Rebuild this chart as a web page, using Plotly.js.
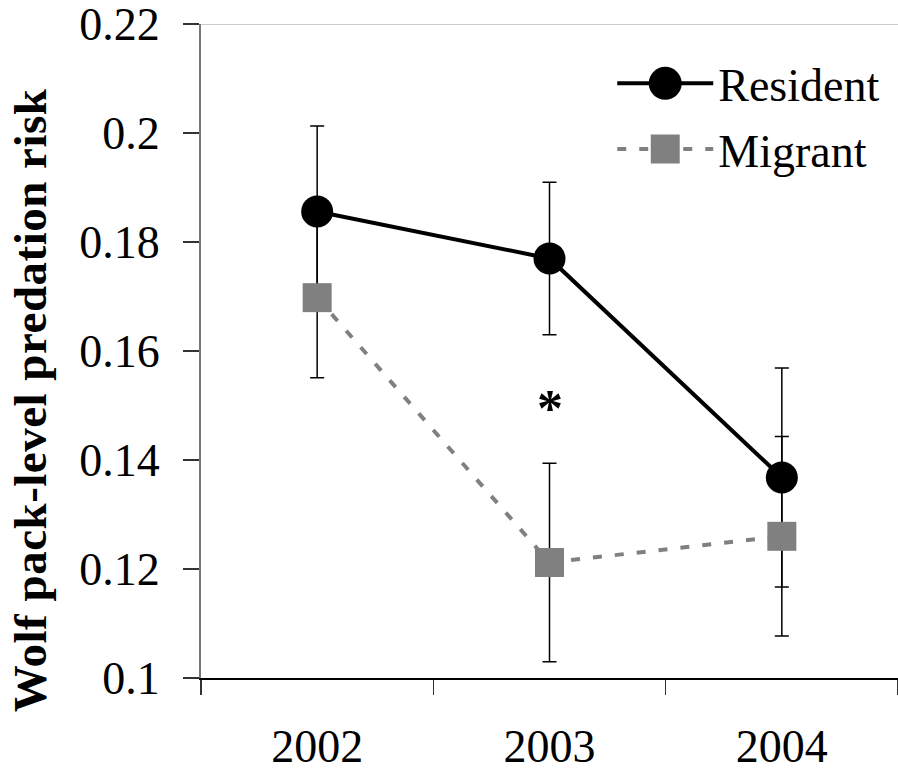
<!DOCTYPE html>
<html>
<head>
<meta charset="utf-8">
<script src="https://cdn.plot.ly/plotly-3.0.1.min.js"></script>
<style>html,body{margin:0;padding:0;background:#fff;}#chart{width:898px;height:771px;}</style>
</head>
<body>
<div id="chart"></div>
<script>
const years = ['2002', '2003', '2004'];
const resident = [0.1856, 0.1770, 0.1368];
const residentErr = [0.0157, 0.0140, 0.0201];
const migrant = [0.1698, 0.1212, 0.1260];
const migrantErr = [0.0147, 0.0182, 0.0183];
const yTicks = [0.1, 0.12, 0.14, 0.16, 0.18, 0.2, 0.22];
const yTickText = ['0.1', '0.12', '0.14', '0.16', '0.18', '0.2', '0.22'];
const yTitle = 'Wolf pack-level predation risk';
const sigYear = '2003';
const sigY = 0.1509;

const FONT = '"Liberation Serif", "Times New Roman", serif';

const traces = [
  {
    x: years, y: resident, name: 'Resident', type: 'scatter', mode: 'lines+markers',
    legendgroup: 'r',
    line: {color: '#000', width: 4},
    marker: {symbol: 'circle', size: 32, color: '#000'},
    error_y: {type: 'data', array: residentErr, visible: true, color: '#000', thickness: 1.5, width: 7}
  },
  {
    x: years, y: migrant, name: 'Migrant', type: 'scatter', mode: 'lines+markers',
    legendgroup: 'm',
    line: {color: '#808080', width: 4, dash: '9px,13px'},
    marker: {symbol: 'square', size: 29, color: '#808080'},
    error_y: {type: 'data', array: migrantErr, visible: true, color: '#000', thickness: 1.5, width: 7}
  }
];

const layout = {
  width: 898, height: 771,
  margin: {l: 201, r: 0, t: 24, b: 93, pad: 0},
  paper_bgcolor: '#fff', plot_bgcolor: '#fff',
  font: {family: FONT, size: 46, color: '#000'},
  showlegend: true,
  legend: {
    x: 0.59, y: 0.965, xanchor: 'left', yanchor: 'top',
    traceorder: 'grouped', bgcolor: 'rgba(0,0,0,0)',
    font: {family: FONT, size: 46, color: '#000'},
    itemwidth: 96, tracegroupgap: 3
  },
  xaxis: {
    type: 'category', range: [-0.5, 2.5], tickson: 'boundaries',
    showline: true, linecolor: '#000', linewidth: 2,
    ticks: 'outside', ticklen: 15, tickwidth: 1.5, tickcolor: '#333',
    showgrid: false, zeroline: false,
    tickfont: {family: FONT, size: 46, color: '#000'},
    ticklabelstandoff: 27, fixedrange: true
  },
  yaxis: {
    range: [0.1, 0.22002], tickvals: yTicks, ticktext: yTickText,
    showline: true, linecolor: '#777', linewidth: 2,
    ticks: 'outside', ticklen: 16, tickwidth: 1.5, tickcolor: '#333',
    showgrid: false, zeroline: false,
    tickfont: {family: FONT, size: 46, color: '#000'},
    ticklabelstandoff: 14, ticklabeloverflow: 'allow',
    automargin: false, fixedrange: true
  },
  shapes: [
    {type: 'line', xref: 'paper', yref: 'y', x0: 0, x1: 1, y0: 0.22, y1: 0.22, line: {color: '#ccc', width: 2}}
  ],
  annotations: [
    {x: years.indexOf(sigYear), y: sigY, xref: 'x', yref: 'y', text: '*', showarrow: false,
     font: {family: FONT, size: 52, color: '#000', weight: 'bold'}, yshift: -8},
    {x: -0.246, y: 0.4238, xref: 'paper', yref: 'paper', xanchor: 'center', yanchor: 'middle',
     text: '<b><span style="letter-spacing:0.5px">' + yTitle + '</span></b>', textangle: -90, showarrow: false,
     font: {family: FONT, size: 47, color: '#000'}}
  ]
};

Plotly.newPlot('chart', traces, layout, {displayModeBar: false, staticPlot: true}).then(function (gd) {
  gd.querySelectorAll('.legend .traces').forEach(function (tr) {
    var txt = tr.querySelector('.legendtext');
    var pt = tr.querySelector('.legendpoints path.scatterpts');
    if (!txt || !pt) return;
    var s = txt.textContent === 'Resident' ? 2.06 : 1.81;
    pt.setAttribute('transform', (pt.getAttribute('transform') || '') + ' scale(' + s + ')');
  });
});
</script>
</body>
</html>
